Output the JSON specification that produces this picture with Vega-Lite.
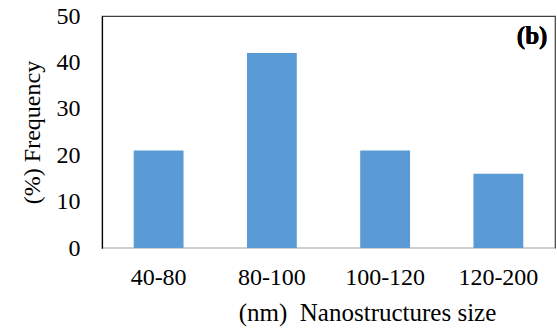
{
  "$schema": "https://vega.github.io/schema/vega-lite/v6.json",
  "autosize": "none",
  "width": 453,
  "height": 232,
  "padding": {"left": 102, "top": 16, "right": 2, "bottom": 85},
  "background": "white",
  "config": {
    "font": "Liberation Serif, Times New Roman, serif",
    "view": {"stroke": "#404040", "strokeWidth": 1.2}
  },
  "data": {
    "values": [
      {"size": "40-80", "freq": 21},
      {"size": "80-100", "freq": 42},
      {"size": "100-120", "freq": 21},
      {"size": "120-200", "freq": 16}
    ]
  },
  "layer": [
    {
      "mark": {"type": "bar", "color": "#5B9BD5"},
      "encoding": {
        "x": {
          "field": "size", "type": "nominal", "sort": null,
          "scale": {"paddingInner": 0.56, "paddingOuter": 0.28},
          "axis": {
            "title": "(nm)\u00a0\u00a0Nanostructures size",
            "titleX": 265,
            "titleAlign": "center",
            "labelAngle": 0,
            "labelFont": "Liberation Serif, Times New Roman, serif", "labelFontSize": 24, "labelColor": "#000",
            "labelPadding": 17,
            "ticks": false,
            "domainColor": "#d0d0d0", "domainWidth": 1.2,
            "titleFont": "Liberation Serif, Times New Roman, serif", "titleFontSize": 25, "titleFontWeight": "normal",
            "titleColor": "#000", "titlePadding": 11
          }
        },
        "y": {
          "field": "freq", "type": "quantitative",
          "scale": {"domain": [0, 50]},
          "axis": {
            "title": "(%) Frequency",
            "values": [0, 10, 20, 30, 40, 50],
            "grid": false,
            "ticks": false,
            "labelFont": "Liberation Serif, Times New Roman, serif", "labelFontSize": 24, "labelColor": "#000",
            "labelPadding": 22,
            "domainColor": "#000", "domainWidth": 1.2,
            "titleFont": "Liberation Serif, Times New Roman, serif", "titleFontSize": 24, "titleFontWeight": "normal",
            "titleColor": "#000", "titlePadding": 12
          }
        }
      }
    },
    {
      "mark": {"type": "text", "text": "(b)", "font": "Liberation Serif, Times New Roman, serif", "fontSize": 25, "fontWeight": "bold", "align": "right", "baseline": "middle", "dx": 49, "color": "#000"},
      "encoding": {
        "x": {"datum": "120-200", "type": "nominal"},
        "y": {"datum": 45.6, "type": "quantitative"}
      }
    }
  ]
}
